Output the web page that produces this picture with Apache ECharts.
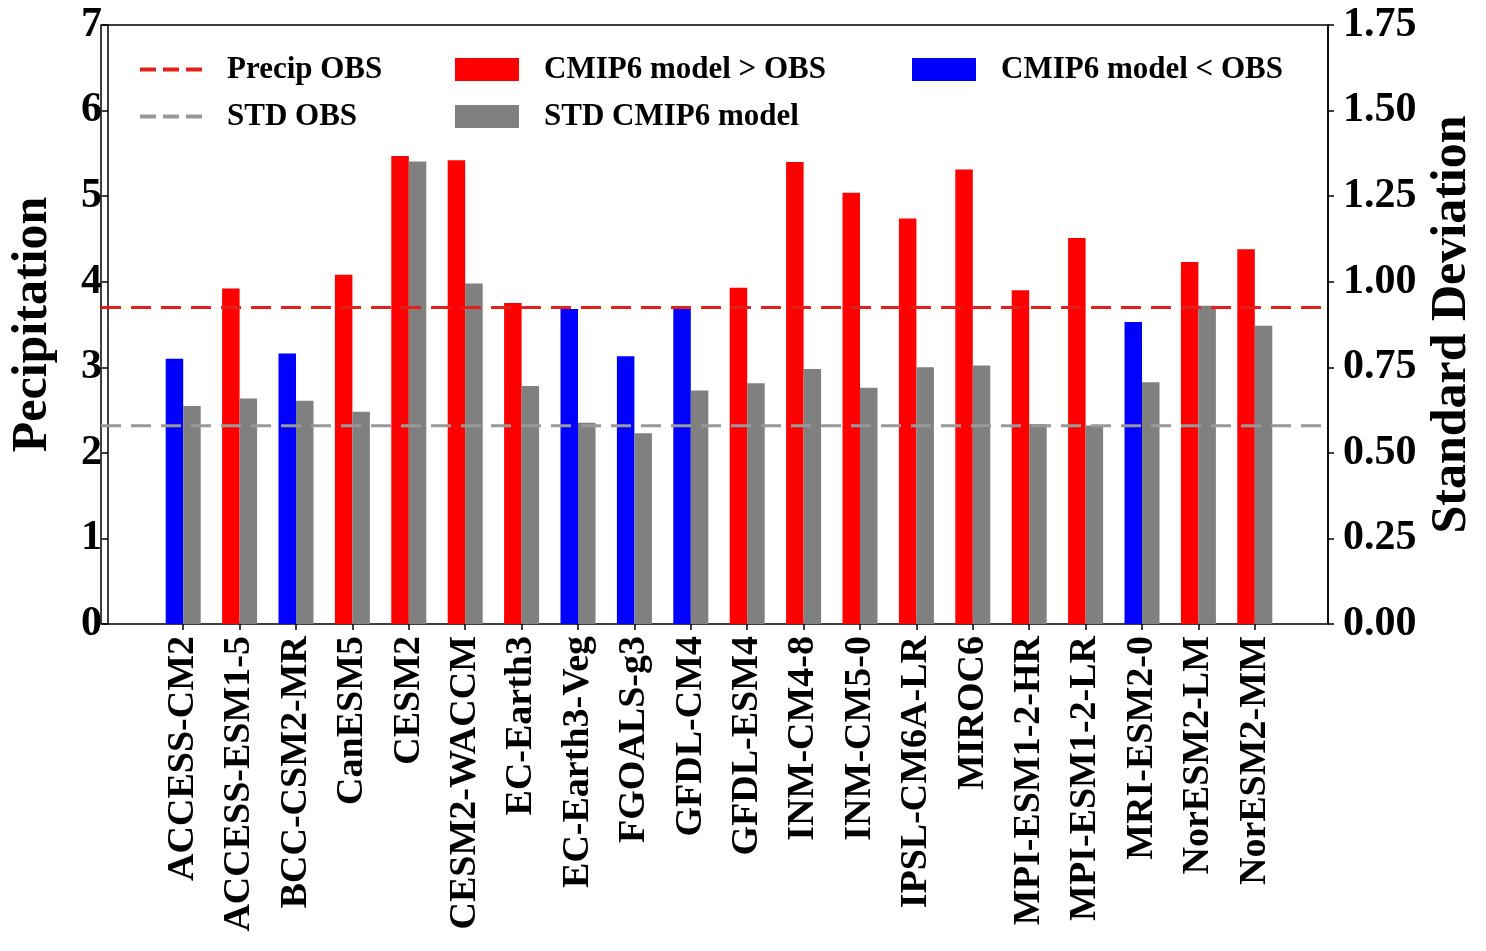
<!DOCTYPE html>
<html>
<head>
<meta charset="utf-8">
<title>CMIP6 precipitation vs OBS</title>
<script src="https://cdn.jsdelivr.net/npm/echarts@6/dist/echarts.min.js"></script>
<style>
  html, body { margin: 0; padding: 0; background: #fff; }
  #chart { width: 1486px; height: 951px; }
</style>
</head>
<body>
<div id="chart"></div>
<script>
const models = [
  "ACCESS-CM2", "ACCESS-ESM1-5", "BCC-CSM2-MR", "CanESM5", "CESM2",
  "CESM2-WACCM", "EC-Earth3", "EC-Earth3-Veg", "FGOALS-g3", "GFDL-CM4",
  "GFDL-ESM4", "INM-CM4-8", "INM-CM5-0", "IPSL-CM6A-LR", "MIROC6",
  "MPI-ESM1-2-HR", "MPI-ESM1-2-LR", "MRI-ESM2-0", "NorESM2-LM", "NorESM2-MM",
];
const precip = [3.10, 3.92, 3.16, 4.08, 5.47, 5.42, 3.75, 3.68, 3.13, 3.68,
  3.93, 5.40, 5.04, 4.74, 5.31, 3.90, 4.51, 3.53, 4.23, 4.38];
const stdDev = [0.637, 0.659, 0.652, 0.620, 1.351, 0.995, 0.695, 0.588, 0.557, 0.682,
  0.703, 0.745, 0.690, 0.750, 0.755, 0.584, 0.580, 0.706, 0.930, 0.871];
const obsPrecip = 3.70;
const obsStd = 0.579;
const precipTicks = [0, 7, 1];
const stdTicks = [0, 1.75, 0.25];

const FONT = "'Liberation Serif', 'Times New Roman', serif";

// split the model bars by their side of the observation
const aboveObs = precip.map((v) => (v > obsPrecip ? v : null));
const belowObs = precip.map((v) => (v <= obsPrecip ? v : null));

const chart = echarts.init(document.getElementById("chart"));

const legendText = {
  fontFamily: FONT,
  fontWeight: "bold",
  fontSize: 31,
  color: "#000",
  lineHeight: 30,
  padding: [0, 0, 0, 20],
};

const legendBase = {
  orient: "vertical",
  top: 49,
  itemWidth: 64,
  itemHeight: 23,
  itemGap: 16,
  selectedMode: false,
  textStyle: legendText,
};

const option = {
  backgroundColor: "#fff",
  animation: false,
  grid: [
    // outer frame, also used for the obs lines
    {
      left: 101,
      right: 158,
      top: 25,
      bottom: 327,
      show: true,
      borderColor: "#000",
      borderWidth: 1.5,
      backgroundColor: "transparent",
    },
    // bars
    {
      left: 148,
      right: 203,
      top: 25,
      bottom: 327,
    },
  ],
  legend: [
    {
      ...legendBase,
      left: 133,
      itemWidth: 62,
      itemStyle: { opacity: 0 },
      lineStyle: { width: 4, type: [16, 7] },
      data: ["Precip OBS", "STD OBS"],
    },
    {
      ...legendBase,
      left: 450,
      icon: "rect",
      data: ["CMIP6 model > OBS", "STD CMIP6 model"],
    },
    {
      ...legendBase,
      left: 907,
      icon: "rect",
      data: ["CMIP6 model < OBS"],
    },
  ],
  xAxis: [
    {
      type: "category",
      gridIndex: 1,
      data: models,
      axisLine: { show: false },
      axisTick: {
        show: true,
        alignWithLabel: true,
        length: 6,
        lineStyle: { color: "#000", width: 1.5 },
      },
      axisLabel: {
        interval: 0,
        rotate: 90,
        margin: 12,
        color: "#000",
        fontFamily: FONT,
        fontWeight: "bold",
        fontSize: 38,
      },
      splitLine: { show: false },
    },
    {
      type: "value",
      gridIndex: 0,
      min: 0,
      max: 1,
      show: false,
    },
  ],
  yAxis: [
    {
      type: "value",
      gridIndex: 1,
      position: "left",
      offset: 47,
      min: precipTicks[0],
      max: precipTicks[1],
      interval: precipTicks[2],
      name: "Pecipitation",
      nameLocation: "middle",
      nameGap: 50,
      nameTextStyle: { fontFamily: FONT, fontWeight: "bold", fontSize: 50, color: "#000" },
      axisLine: { show: true, lineStyle: { color: "#000", width: 1.5 } },
      axisTick: { show: true, length: 6, lineStyle: { color: "#000", width: 1.5 } },
      axisLabel: { margin: 6, color: "#000", fontFamily: FONT, fontWeight: "bold", fontSize: 42 },
      splitLine: { show: false },
    },
    {
      type: "value",
      gridIndex: 1,
      position: "right",
      offset: 45,
      min: stdTicks[0],
      max: stdTicks[1],
      interval: stdTicks[2],
      name: "Standard Deviation",
      nameLocation: "middle",
      nameGap: 96,
      nameTextStyle: { fontFamily: FONT, fontWeight: "bold", fontSize: 50, color: "#000" },
      axisLine: { show: true, lineStyle: { color: "#000", width: 1.5 } },
      axisTick: { show: true, length: 6, lineStyle: { color: "#000", width: 1.5 } },
      axisLabel: {
        margin: 15,
        color: "#000",
        fontFamily: FONT,
        fontWeight: "bold",
        fontSize: 42,
        formatter: (v) => v.toFixed(2),
      },
      splitLine: { show: false },
    },
    {
      type: "value",
      gridIndex: 0,
      min: precipTicks[0],
      max: precipTicks[1],
      show: false,
    },
    {
      type: "value",
      gridIndex: 0,
      min: stdTicks[0],
      max: stdTicks[1],
      show: false,
    },
  ],
  series: [
    {
      name: "CMIP6 model > OBS",
      type: "bar",
      xAxisIndex: 0,
      yAxisIndex: 0,
      stack: "precip",
      barWidth: 17.5,
      barGap: "0%",
      itemStyle: { color: "#ff0000" },
      data: aboveObs,
    },
    {
      name: "CMIP6 model < OBS",
      type: "bar",
      xAxisIndex: 0,
      yAxisIndex: 0,
      stack: "precip",
      barWidth: 17.5,
      barGap: "0%",
      itemStyle: { color: "#0000ff" },
      data: belowObs,
    },
    {
      name: "STD CMIP6 model",
      type: "bar",
      xAxisIndex: 0,
      yAxisIndex: 1,
      barWidth: 17.5,
      barGap: "0%",
      itemStyle: { color: "#808080" },
      data: stdDev,
    },
    {
      name: "Precip OBS",
      type: "line",
      xAxisIndex: 1,
      yAxisIndex: 2,
      symbol: "none",
      z: 5,
      lineStyle: { color: "#e3201c", width: 3, type: [20, 10] },
      itemStyle: { color: "#e3201c" },
      data: [[0, obsPrecip], [1, obsPrecip]],
    },
    {
      name: "STD OBS",
      type: "line",
      xAxisIndex: 1,
      yAxisIndex: 3,
      symbol: "none",
      z: 5,
      lineStyle: { color: "#999999", width: 3, type: [20, 10] },
      itemStyle: { color: "#999999" },
      data: [[0, obsStd], [1, obsStd]],
    },
  ],
};

chart.setOption(option);
</script>
</body>
</html>
